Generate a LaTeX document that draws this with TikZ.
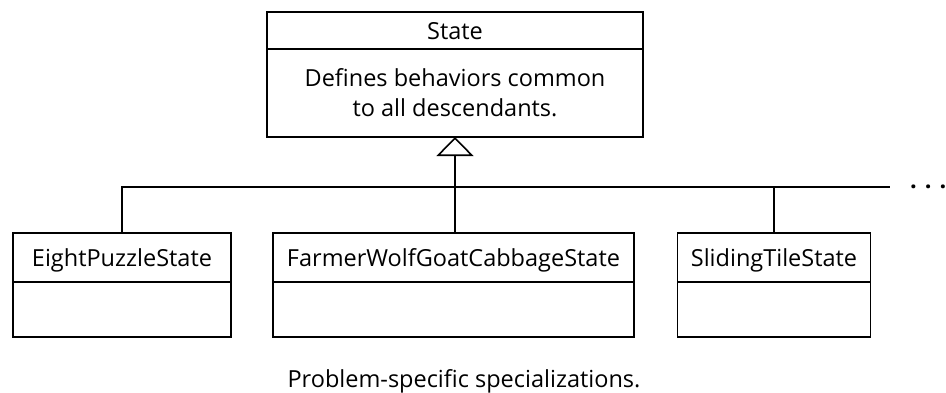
\documentclass[tikz,border=0pt]{standalone}
\usepackage{fontspec}
\setmainfont{Open Sans}
\usetikzlibrary{arrows.meta,positioning}
\newcommand{\umlfont}{\fontsize{23.5}{30}\selectfont}
\tikzset{
    classHead/.style={rectangle, draw, line width=1.6pt, inner sep=0pt, outer sep=0pt,
                  text height=17pt, text depth=0pt, minimum height=49pt, font=\umlfont},
    classBody/.style={rectangle, draw, line width=1.6pt, inner sep=0pt, outer sep=0pt,
                  minimum height=55pt, font=\umlfont},
    link/.style={draw, line width=1.6pt},
    inherit/.style={link, -{Triangle[open, width=37pt, length=19pt, line width=1.6pt]}}
}
\begin{document}
\begin{tikzpicture}[x=1pt, y=-1pt]
  \useasboundingbox (0,0) rectangle (946,392);
  % base class
  \node [classHead, minimum width=376pt, minimum height=37pt, anchor=north west] (state) at (267,12) {State};
  \node [classBody, minimum width=376pt, minimum height=88pt, below=0pt of state, align=center] (stateBody) {Defines behaviors common\\to all descendants.};

  % specializations
  \node [classHead, minimum width=218pt, anchor=north west] (eight) at (13,233) {EightPuzzleState};
  \node [classBody, minimum width=218pt, below=0pt of eight] (eightBody) {};
  \node [classHead, minimum width=361pt, right=42pt of eight] (farmer) {FarmerWolfGoatCabbageState};
  \node [classBody, minimum width=361pt, below=0pt of farmer] (farmerBody) {};
  \node [classHead, minimum width=193pt, right=43.5pt of farmer] (sliding) {SlidingTileState};
  \node [classBody, minimum width=193pt, below=0pt of sliding] (slidingBody) {};

  \node [font=\umlfont\bfseries, inner sep=0pt, anchor=west] (more) at (910,187) {.\hspace{8pt}.\hspace{8pt}.};
  \node [font=\umlfont, anchor=base] (caption) at (464,387) {Problem-specific specializations.};

  \coordinate (bar) at (0,187);
  \coordinate (hub) at (stateBody.south |- bar);
  \draw[link] (eight.north) |- ([xshift=-20pt]more.west);
  \draw[link] (sliding.north) -- (sliding.north |- bar);
  \draw[inherit] (hub |- farmer.north) -- (stateBody.south);
\end{tikzpicture}
\end{document}
